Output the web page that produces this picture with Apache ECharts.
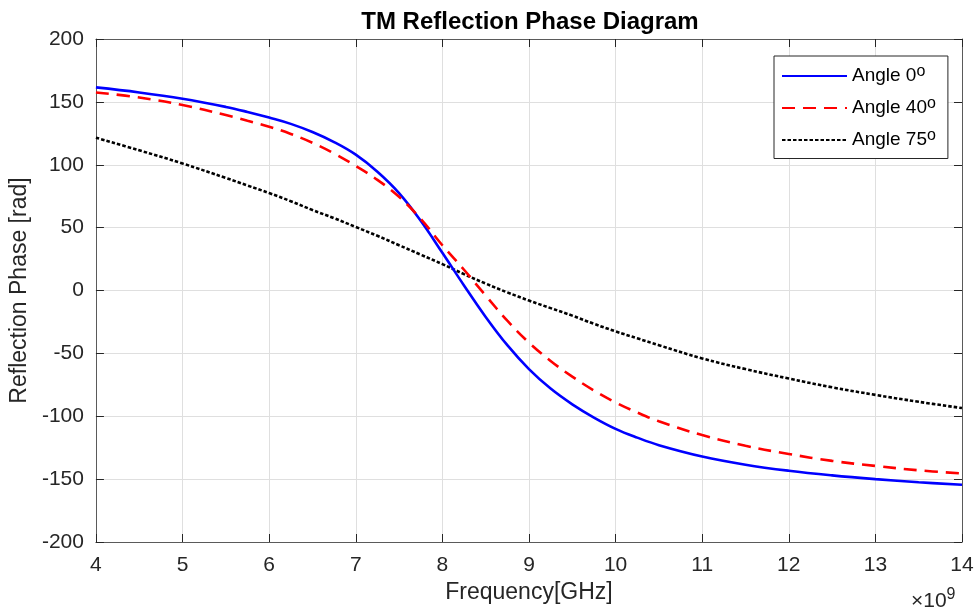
<!DOCTYPE html>
<html>
<head>
<meta charset="utf-8">
<script src="https://cdn.jsdelivr.net/npm/echarts@6/dist/echarts.min.js"></script>
<style>html,body{margin:0;padding:0;background:#fff}#c{width:977px;height:614px}</style>
</head>
<body>
<div id="c"></div>
<script>
// Frequency in GHz (axis shows ×10^9 Hz)
const freqGHz = [4, 4.5, 5, 5.5, 5.75, 6, 6.25, 6.5, 6.75, 7, 7.25, 7.5, 7.75, 8, 8.25, 8.5, 8.75, 9, 9.25, 9.5, 9.75, 10, 10.25, 10.5, 11, 11.5, 12, 12.5, 13, 13.5, 14];
const angle0  = [161.5, 157.5, 152.5, 146, 142, 137.5, 132.5, 126, 118, 108, 94.5, 77.5, 55.5, 30, 4, -21, -43.5, -62.5, -78, -90.5, -101, -110, -117, -123, -132, -138.5, -143.3, -147, -150, -152.5, -154.5];
const angle40 = [157.5, 153.5, 147.5, 139.5, 135, 130.3, 124.5, 117.5, 109, 99, 88, 74.5, 57, 36, 16.5, -4, -24, -41.5, -56, -68.5, -79.5, -89, -97, -104, -115, -123.5, -130, -135.5, -139.5, -143, -145.5];
const angle75 = [121.5, 111.5, 101, 89.5, 83.5, 77.5, 71, 64, 57.5, 50.5, 43.5, 36, 28.5, 21, 13, 5.5, -1.5, -8, -14, -20, -26.5, -32.5, -38, -43.5, -54, -62.5, -70, -77, -83, -88.5, -93.5];
const seriesNames = ['Angle 0', 'Angle 40', 'Angle 75'];
const xTicks = {min: 4, max: 14, step: 1};
const yTicks = {min: -200, max: 200, step: 50};

const FONT = '"Liberation Sans", Arial, Helvetica, sans-serif';
const AX = '#5a5a5a';
const TXT = '#262626';

function pairs(ys){ return freqGHz.map((f,i)=>[f, ys[i]]); }

const chart = echarts.init(document.getElementById('c'), null, {renderer:'canvas'});
const axisCommon = {
  axisLine:{show:true, onZero:false, lineStyle:{color:AX, width:1}},
  axisTick:{show:true, inside:true, length:8, lineStyle:{color:'#262626', width:1}},
};
chart.setOption({
  animation:false,
  backgroundColor:'#fff',
  textStyle:{fontFamily:FONT},
  title:{
    text:'TM Reflection Phase Diagram',
    left:525, top:5, textAlign:'center',
    textStyle:{fontFamily:FONT, fontSize:24, fontWeight:'bold', color:'#000'}
  },
  grid:{left:95, right:15, top:39, bottom:72, containLabel:false},
  xAxis:[
    Object.assign({
      type:'value', min:xTicks.min, max:xTicks.max, interval:xTicks.step,
      name:'Frequency[GHz]', nameLocation:'middle', nameGap:36,
      nameTextStyle:{fontFamily:FONT, fontSize:23, color:TXT},
      axisLabel:{fontFamily:FONT, fontSize:21, color:TXT, margin:13},
      splitLine:{show:true, lineStyle:{color:'#dfdfdf', width:1}}
    }, axisCommon),
    Object.assign({
      type:'value', position:'top', min:xTicks.min, max:xTicks.max, interval:xTicks.step,
      axisLabel:{show:false}, splitLine:{show:false}
    }, axisCommon)
  ],
  yAxis:[
    Object.assign({
      type:'value', min:yTicks.min, max:yTicks.max, interval:yTicks.step,
      name:'Reflection Phase [rad]', nameLocation:'middle', nameGap:57,
      nameTextStyle:{fontFamily:FONT, fontSize:23, color:TXT},
      axisLabel:{fontFamily:FONT, fontSize:21, color:TXT, margin:12},
      splitLine:{show:true, lineStyle:{color:'#dfdfdf', width:1}}
    }, axisCommon),
    Object.assign({
      type:'value', position:'right', min:yTicks.min, max:yTicks.max, interval:yTicks.step,
      axisLabel:{show:false}, splitLine:{show:false}
    }, axisCommon)
  ],
  legend:{
    orient:'vertical', left:774, top:56,
    itemWidth:65, itemHeight:14, itemGap:10.5,
    padding:[8,12,9,7],
    borderColor:'#262626', borderWidth:1, backgroundColor:'#fff',
    itemStyle:{color:'rgba(0,0,0,0)', borderColor:'rgba(0,0,0,0)', borderWidth:0},
    data:seriesNames,
    formatter: n => '{m|' + n + '}{sup|o}',
    textStyle:{fontFamily:FONT, fontSize:19, color:'#000',
      rich:{
        m:{fontFamily:FONT, fontSize:19, color:'#000', lineHeight:24, verticalAlign:'middle'},
        sup:{fontFamily:FONT, fontSize:16, color:'#000', verticalAlign:'top', lineHeight:10}
      }}
  },
  graphic:[{
    type:'text', left:911, top:587,
    style:{text:'{m|×10}{s|9}', font:'21px '+FONT, fill:TXT,
      rich:{
        m:{fontSize:21, fontFamily:FONT, fill:TXT, lineHeight:28, verticalAlign:'middle'},
        s:{fontSize:16, fontFamily:FONT, fill:TXT, verticalAlign:'top', lineHeight:12}
      }}
  }],
  series:[
    {name:seriesNames[0], type:'line', data:pairs(angle0), smooth:0.4, symbol:'none',
     lineStyle:{color:'#0000ff', width:2.6, type:'solid'}, itemStyle:{color:'#0000ff'}, z:3},
    {name:seriesNames[1], type:'line', data:pairs(angle40), smooth:0.4, symbol:'none',
     lineStyle:{color:'#ff0000', width:2.6, type:[13,8]}, itemStyle:{color:'#ff0000'}, z:4},
    {name:seriesNames[2], type:'line', data:pairs(angle75), smooth:0.4, symbol:'none',
     lineStyle:{color:'#000000', width:2.6, type:[3.5,2]}, itemStyle:{color:'#000000'}, z:2}
  ]
});
</script>
</body>
</html>
